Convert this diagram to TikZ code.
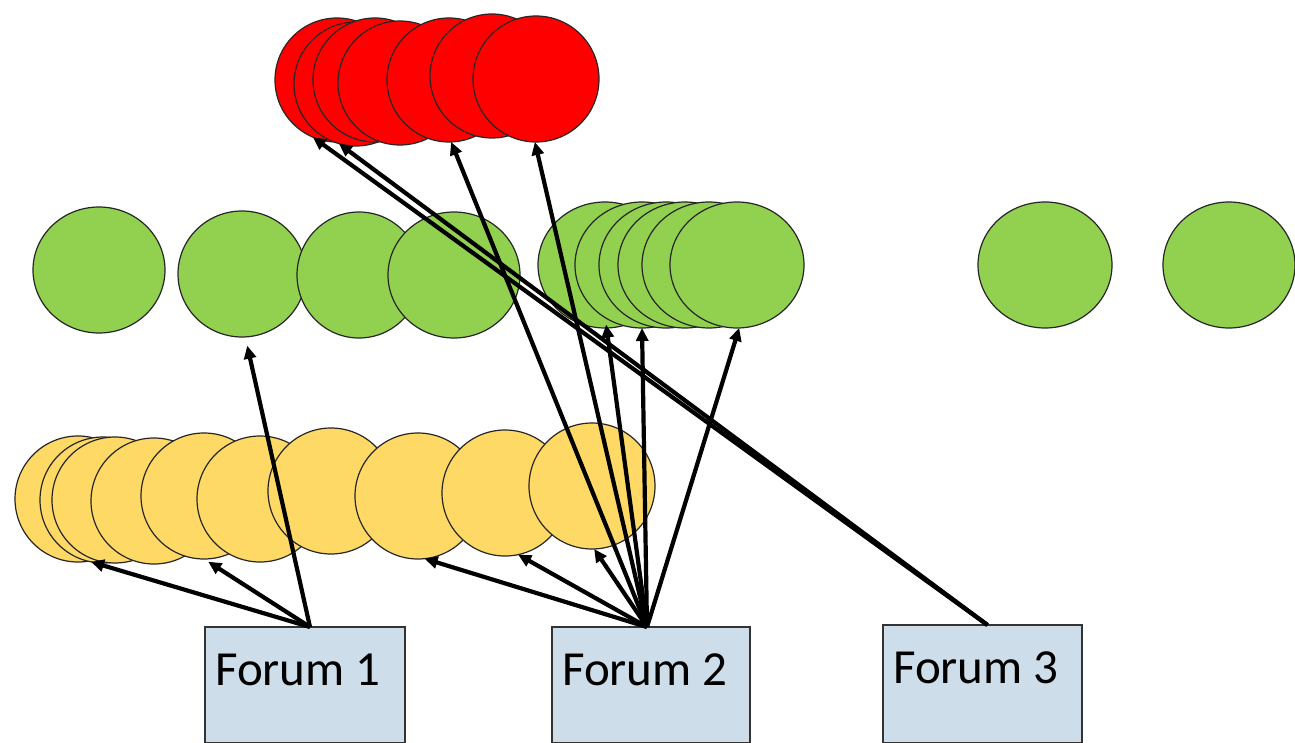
\documentclass[tikz,border=0pt]{standalone}
\usepackage{fontspec}
\setmainfont{Carlito}
\usetikzlibrary{shapes.geometric,arrows.meta}
\definecolor{redc}{HTML}{FF0000}
\definecolor{greenc}{HTML}{92D050}
\definecolor{yellowc}{HTML}{FFD966}
\definecolor{boxc}{HTML}{CDDDE9}
\begin{document}
\begin{tikzpicture}[x=1pt,y=-1pt,
  blob/.style={ellipse, draw=black!85, line width=1.2pt, inner sep=0pt, outer sep=0pt},
  redblob/.style={blob, fill=redc, minimum width=124pt, minimum height=124pt},
  greenblob/.style={blob, fill=greenc, minimum width=132pt, minimum height=126pt},
  yellowblob/.style={blob, fill=yellowc, minimum width=126pt, minimum height=126pt},
  forum/.style={rectangle, draw=black!80, line width=1.2pt, fill=boxc, anchor=north west, inner sep=0pt, outer sep=0pt},
  forumtext/.style={anchor=base west, inner sep=0pt, font=\fontsize{49}{56}\selectfont},
  arr/.style={draw=black, line width=4.2pt, -{Triangle[length=13pt,width=12pt]}}]
\useasboundingbox (0,0) rectangle (1295,743);

% red row
\node[redblob] (r1) at (337,80) {};
\node[redblob] (r2) at (356,84) {};
\node[redblob] (r3) at (375,80) {};
\node[redblob] (r4) at (400,83) {};
\node[redblob] (r5) at (449,80) {};
\node[redblob] (r6) at (492,76) {};
\node[redblob, minimum width=126pt, minimum height=126pt] (r7) at (536,79) {};

% green row
\node[greenblob] (g1) at (99,270) {};
\node[greenblob, minimum width=128pt] (g2) at (242,274) {};
\node[greenblob, minimum width=124pt] (g3) at (359,275) {};
\node[greenblob] (g4) at (454,275) {};
\node[greenblob, minimum width=134pt] (g51) at (605,265) {};
\node[greenblob, minimum width=134pt] (g52) at (642,265) {};
\node[greenblob, minimum width=134pt] (g53) at (666,265) {};
\node[greenblob, minimum width=134pt] (g54) at (685,265) {};
\node[greenblob, minimum width=134pt] (g55) at (709,265) {};
\node[greenblob, minimum width=134pt] (g56) at (737,265) {};
\node[greenblob, minimum width=134pt] (g6) at (1045,265) {};
\node[greenblob] (g7) at (1229,265) {};

% yellow row
\node[yellowblob] (y1) at (78,499) {};
\node[yellowblob] (y2) at (103,500) {};
\node[yellowblob] (y3) at (115,500) {};
\node[yellowblob] (y4) at (154,501) {};
\node[yellowblob] (y5) at (204,496) {};
\node[yellowblob] (y6) at (260,499) {};
\node[yellowblob] (y7) at (331,491) {};
\node[yellowblob] (y8) at (418,496) {};
\node[yellowblob] (y9) at (505,493) {};
\node[yellowblob] (y10) at (592,486) {};

% forums
\node[forum, minimum width=200pt, minimum height=116pt] (f1) at (205,627) {};
\node[forum, minimum width=198pt, minimum height=116pt] (f2) at (552,627) {};
\node[forum, minimum width=199pt, minimum height=118pt] (f3) at (883,625) {};
\node[forumtext] (t1) at (215,685) {Forum 1};
\node[forumtext] (t2) at (562,685) {Forum 2};
\node[forumtext] (t3) at (893,683) {Forum 3};

% connectors from Forum 1
\draw[arr] ([xshift=5pt]f1.north) -- (y2.-101);
\draw[arr, shorten >=5pt] ([xshift=5pt]f1.north) -- (y5.-90);
\draw[arr, shorten >=9pt] ([xshift=5pt]f1.north) -- (g2.-87);

% connectors from Forum 2
\draw[arr] ([xshift=-4pt]f2.north) -- (y8.-84);
\draw[arr] ([xshift=-4pt]f2.north) -- (y9.-78);
\draw[arr] ([xshift=-4pt]f2.north) -- (y10.-88);
\draw[arr] ([xshift=-4pt]f2.north) -- (r5.-88);
\draw[arr] ([xshift=-4pt]f2.north) -- (r7.-91);
\draw[arr, shorten >=7pt] ([xshift=-4pt]f2.north) -- (g52.-125);
\draw[arr] ([xshift=-4pt]f2.north) -- (g52.south);
\draw[arr] ([xshift=-4pt]f2.north) -- (g56.-88);

% connectors from Forum 3
\draw[arr] ([xshift=5pt]f3.north) -- (r1.-113);
\draw[arr] ([xshift=5pt]f3.north) -- (r2.-106);
\end{tikzpicture}
\end{document}
